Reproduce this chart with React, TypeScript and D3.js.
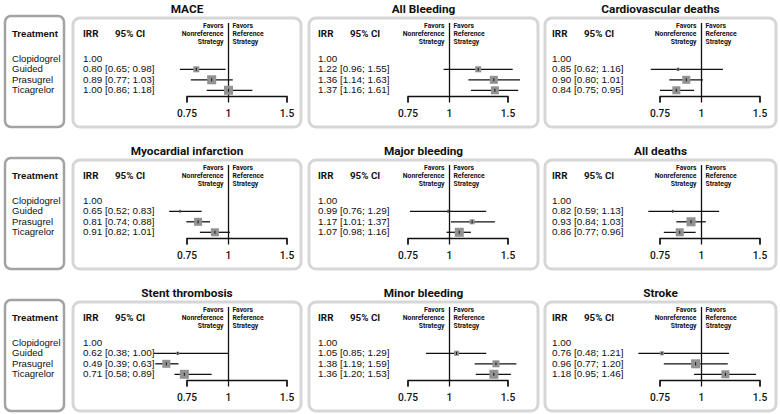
import React from "react";
import * as d3 from "d3";

const titles = [
  "MACE", "All Bleeding", "Cardiovascular deaths",
  "Myocardial infarction", "Major bleeding", "All deaths",
  "Stent thrombosis", "Minor bleeding", "Stroke",
];
const treatments = ["Clopidogrel", "Guided", "Prasugrel", "Ticagrelor"];
// Guided, Prasugrel, Ticagrelor (Clopidogrel is reference = 1.00)
const irr = [
  [0.80, 0.89, 1.00], [1.22, 1.36, 1.37], [0.85, 0.90, 0.84],
  [0.65, 0.81, 0.91], [0.99, 1.17, 1.07], [0.82, 0.93, 0.86],
  [0.62, 0.49, 0.71], [1.05, 1.38, 1.36], [0.76, 0.96, 1.18],
];
const lower = [
  [0.65, 0.77, 0.86], [0.96, 1.14, 1.16], [0.62, 0.80, 0.75],
  [0.52, 0.74, 0.82], [0.76, 1.01, 0.98], [0.59, 0.84, 0.77],
  [0.38, 0.39, 0.58], [0.85, 1.19, 1.20], [0.48, 0.77, 0.95],
];
const upper = [
  [0.98, 1.03, 1.18], [1.55, 1.63, 1.61], [1.16, 1.01, 0.95],
  [0.83, 0.88, 1.01], [1.29, 1.37, 1.16], [1.13, 1.03, 0.96],
  [1.00, 0.63, 0.89], [1.29, 1.59, 1.53], [1.21, 1.20, 1.46],
];
const weights = [
  [40, 90, 90], [40, 71, 71], [10, 71, 71],
  [4, 71, 71], [4, 28, 90], [4, 90, 71],
  [10, 71, 90], [28, 54, 90], [18, 90, 71],
];
const tickValues = [0.75, 1, 1.5];
const favorsLeft = ["Favors", "Nonreference", "Strategy"];
const favorsRight = ["Favors", "Reference", "Strategy"];

const panelLeft = [73, 309, 545];
const panelWidth = [228, 229, 231];
const textOff = [10, 9, 7];
const x075 = [187, 408, 660];
const rowTop = [18, 160, 302];

const f2 = d3.format(".2f");
const headFont = "Roboto, 'DejaVu Sans', sans-serif";
const bodyFont = "'Liberation Sans', Arial, sans-serif";

function Panel({ idx }: { idx: number }) {
  const col = idx % 3;
  const row = Math.floor(idx / 3);
  const L = panelLeft[col];
  const W = panelWidth[col];
  const T = rowTop[row];
  const xa = x075[col];
  const x = d3.scaleLog().domain([0.38, 0.75, 1.5]).range([xa - 33, xa, xa + 100]);
  const size = d3.scaleSqrt().domain([0, 100]).range([0, 9.5]);
  const tx = L + textOff[col];
  const rowC = (i: number) => T + 40 + i * 10.5;
  const ay = T + 78.5;
  const x1 = x(1);
  return (
    <g>
      <text x={L + W / 2} y={T - 5} textAnchor="middle" fontFamily={headFont} fontWeight={700} fontSize={11.8} fill="#111">
        {titles[idx]}
      </text>
      <rect x={L} y={T} width={W} height={109} rx={7} fill="#fff" stroke="#d6d6d6" strokeWidth={3} />
      <text x={tx} y={T + 18.5} fontFamily={headFont} fontWeight={700} fontSize={9.8} fill="#111">IRR</text>
      <text x={tx + 32} y={T + 18.5} fontFamily={headFont} fontWeight={700} fontSize={9.8} fill="#111">95% CI</text>
      {favorsLeft.map((s, k) => (
        <text key={"fl" + k} x={x1 - 5} y={T + 10 + k * 8} textAnchor="end" fontFamily={headFont} fontWeight={700} fontSize={6.8} fill="#111">{s}</text>
      ))}
      {favorsRight.map((s, k) => (
        <text key={"fr" + k} x={x1 + 4} y={T + 10 + k * 8} fontFamily={headFont} fontWeight={700} fontSize={6.8} fill="#111">{s}</text>
      ))}
      <text x={tx} y={rowC(0) + 3.5} fontFamily={bodyFont} fontSize={9.9} fill="#111">{f2(1)}</text>
      {irr[idx].map((v, j) => (
        <text key={"t" + j} x={tx} y={rowC(j + 1) + 3.5} fontFamily={bodyFont} fontSize={9.9} fill="#111" style={{ whiteSpace: "pre" }}>
          {`${f2(v)} [${f2(lower[idx][j])}; ${f2(upper[idx][j])}]`}
        </text>
      ))}
      <line x1={x1} x2={x1} y1={T + 5} y2={ay} stroke="#111" strokeWidth={1.3} />
      {irr[idx].map((v, j) => {
        const cy = rowC(j + 1) + 0.8;
        const s = size(weights[idx][j]);
        return (
          <g key={"m" + j}>
            <line x1={x(lower[idx][j])} x2={x(upper[idx][j])} y1={cy} y2={cy} stroke="#111" strokeWidth={1.3} />
            <rect x={x(v) - s / 2} y={cy - s / 2} width={s} height={s} fill="#929292" />
            <line x1={x(v)} x2={x(v)} y1={cy - 1.5} y2={cy + 1.5} stroke="#111" strokeWidth={1} />
          </g>
        );
      })}
      <path d={`M${x(0.75)},${ay + 6}V${ay}H${x(1.5)}V${ay + 6}`} fill="none" stroke="#111" strokeWidth={1.3} />
      {tickValues.map((t) => (
        <g key={"k" + t}>
          <line x1={x(t)} x2={x(t)} y1={ay} y2={ay + 6} stroke="#111" strokeWidth={1.3} />
          <text x={x(t)} y={T + 99} textAnchor="middle" fontFamily={headFont} fontWeight={500} fontSize={10.2} fill="#111">{String(t)}</text>
        </g>
      ))}
    </g>
  );
}

function TreatmentBox({ row }: { row: number }) {
  const T = rowTop[row];
  const rowC = (i: number) => T + 40 + i * 10.5;
  return (
    <g>
      <rect x={5} y={T - 2} width={59} height={111} rx={6} fill="#fff" stroke="#a3a3a3" strokeWidth={2.5} />
      <text x={12} y={T + 18.5} fontFamily={bodyFont} fontWeight={700} fontSize={9.6} fill="#111">Treatment</text>
      {treatments.map((t, i) => (
        <text key={t} x={12} y={rowC(i) + 3.5} fontFamily={bodyFont} fontSize={9.6} fill="#111">{t}</text>
      ))}
    </g>
  );
}

export default function App() {
  return (
    <svg width={780} height={414} style={{ position: "absolute", left: 0, top: 0, background: "#fff" }}>
      <rect width={780} height={414} fill="#fff" />
      {[0, 1, 2].map((r) => <TreatmentBox key={"tb" + r} row={r} />)}
      {titles.map((_, i) => <Panel key={i} idx={i} />)}
    </svg>
  );
}
